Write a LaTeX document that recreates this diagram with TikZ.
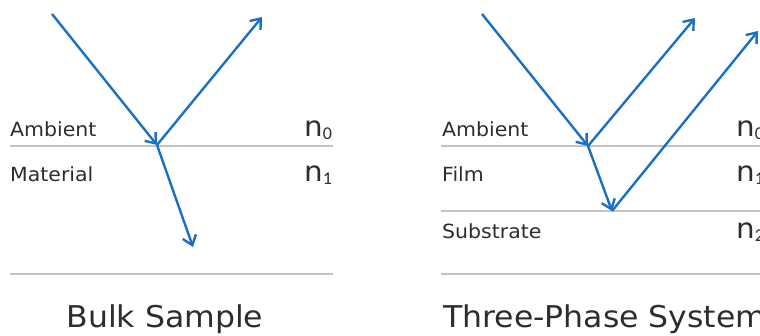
\documentclass[tikz,border=0pt]{standalone}
\usepackage{fontspec}
\setmainfont{DejaVu Sans}[FakeStretch=1.05]
\newfontfamily\subfont{Carlito}
\usetikzlibrary{arrows.meta}
\definecolor{ray}{RGB}{28,112,196}
\definecolor{iface}{RGB}{195,195,195}
\definecolor{txt}{RGB}{45,45,45}
\tikzset{
  raypath/.style={draw=ray, line width=2.4pt, -{Straight Barb[length=9pt,width=14pt,line width=2.4pt]}},
  ifline/.style={draw=iface, line width=1.4pt},
  lbl/.style={anchor=base west, inner sep=0pt, text=txt, font=\fontsize{19.5}{21}\selectfont},
  idx/.style={anchor=base west, inner sep=0pt, text=txt, font=\fontsize{28}{29}\selectfont},
  ttl/.style={anchor=base, inner sep=0pt, text=txt, font=\fontsize{30}{32}\selectfont},
}
\newcommand{\nsub}[1]{n\raisebox{-3pt}{\subfont\fontsize{18}{18}\selectfont #1}}
\begin{document}
\begin{tikzpicture}[x=1pt,y=-1pt]
\useasboundingbox (0,0) rectangle (760,336);
% ---------- left: bulk sample ----------
\coordinate (la) at (10,146);  \coordinate (lb) at (333,146);
\coordinate (lc) at (10,274);  \coordinate (ld) at (333,274);
\draw[ifline] (la) -- (lb);
\draw[ifline] (lc) -- (ld);
\coordinate (lin) at (52,14);
\coordinate (lhit) at (157,145);
\coordinate (lref) at (262,17);
\coordinate (ltr) at (193,247);
\draw[raypath] (lin) -- (lhit);
\draw[raypath] (lhit) -- (lref);
\draw[raypath] (lhit) -- (ltr);
\node[lbl] (lamb) at (10,137) {Ambient};
\node[lbl] (lmat) at (10,182) {Material};
\node[idx] (ln0) at (304,137) {\nsub{0}};
\node[idx] (ln1) at (304,182) {\nsub{1}};
\node[ttl] (lttl) at (165,328) {Bulk Sample};
% ---------- right: three-phase system ----------
\coordinate (ra) at (441,146);  \coordinate (rb) at (760,146);
\coordinate (rc) at (441,211);  \coordinate (rd) at (760,211);
\coordinate (re) at (441,274);  \coordinate (rf) at (760,274);
\draw[ifline] (ra) -- (rb);
\draw[ifline] (rc) -- (rd);
\draw[ifline] (re) -- (rf);
\coordinate (rin) at (482,14);
\coordinate (rhit) at (588,146);
\coordinate (rref) at (695,18);
\coordinate (rbot) at (612,211);
\coordinate (rref2) at (758,31);
\draw[raypath] (rin) -- (rhit);
\draw[raypath] (rhit) -- (rref);
\draw[raypath] (rhit) -- (rbot);
\draw[raypath] (rbot) -- (rref2);
\node[lbl] (ramb) at (442,137) {Ambient};
\node[lbl] (rfilm) at (442,182) {Film};
\node[lbl] (rsub) at (442,239) {Substrate};
\node[idx] (rn0) at (736,137) {\nsub{0}};
\node[idx] (rn1) at (736,182) {\nsub{1}};
\node[idx] (rn2) at (736,239) {\nsub{2}};
\node[ttl, anchor=base west] (rttl) at (443,328) {Three-Phase System};
\end{tikzpicture}
\end{document}
